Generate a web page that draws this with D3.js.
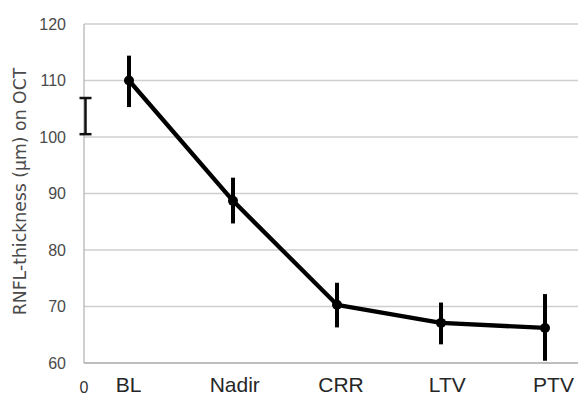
<!DOCTYPE html>
<html><head><meta charset="utf-8">
<script src="https://cdn.jsdelivr.net/npm/d3@7/dist/d3.min.js"></script>
<style>html,body{margin:0;padding:0;background:#fff;}svg{display:block;}</style>
</head><body>
<script>
const categories = ["BL", "Nadir", "CRR", "LTV", "PTV"];
const means = [110, 88.7, 70.3, 67.1, 66.2];
const lower = [105.3, 84.7, 66.3, 63.3, 60.4];
const upper = [114.4, 92.8, 74.2, 70.7, 72.2];
const zeroLabel = "0";
const zeroLower = 100.5;
const zeroUpper = 106.9;
const yTicks = [60, 70, 80, 90, 100, 110, 120];
const yTitle = "RNFL-thickness (µm) on OCT";

const W = 580, H = 398;
const m = {left: 84, top: 24, right: 2, bottom: 35};
const svg = d3.select("body").append("svg").attr("width", W).attr("height", H);
const g = svg.append("g").attr("transform", `translate(${m.left},${m.top})`);
const iw = W - m.left - m.right, ih = H - m.top - m.bottom;

const y = d3.scaleLinear().domain([60, 120]).range([ih, 0]);
const x = d3.scalePoint().domain(categories).range([45, 461]);
const xLab = d3.scalePoint().domain(categories).range([44, 469]);

// gridlines
g.selectAll(".grid").data(yTicks).join("line")
  .attr("x1", 0).attr("x2", iw)
  .attr("y1", d => y(d)).attr("y2", d => y(d))
  .attr("stroke", "#cfcfcf").attr("stroke-width", 1.3);

// axis lines
g.append("line").attr("x1", 0).attr("x2", 0).attr("y1", 0).attr("y2", ih)
  .attr("stroke", "#b5b5b5").attr("stroke-width", 1.3);
g.append("line").attr("x1", 0).attr("x2", iw).attr("y1", ih).attr("y2", ih)
  .attr("stroke", "#b5b5b5").attr("stroke-width", 1.3);

// y tick labels
const yAxis = d3.axisLeft(y).tickValues(yTicks).tickSize(0).tickPadding(18);
const ya = g.append("g").call(yAxis);
ya.select(".domain").remove();
ya.selectAll("text").attr("font-family", "Liberation Sans, Arial, sans-serif")
  .attr("font-size", 16).attr("fill", "#4a4a4a");

// x labels
const xAxis = d3.axisBottom(xLab).tickSize(0).tickPadding(14);
const xa = g.append("g").attr("transform", `translate(0,${ih})`).call(xAxis);
xa.select(".domain").remove();
xa.selectAll("text").attr("font-family", "Liberation Sans, Arial, sans-serif")
  .attr("font-size", 21).attr("fill", "#262626");
g.append("text").attr("x", 0).attr("y", ih + 30).attr("text-anchor", "middle")
  .attr("font-family", "Liberation Sans, Arial, sans-serif").attr("font-size", 16)
  .attr("fill", "#333").text(zeroLabel);

// y title
svg.append("text").attr("transform", `translate(26,${m.top + ih / 2 - 2}) rotate(-90)`)
  .attr("text-anchor", "middle").attr("font-family", "DejaVu Sans, Verdana, sans-serif")
  .attr("font-size", 17.3).attr("fill", "#4a4a4a").text(yTitle);

// zero error bar
const zx = 1.5;
g.append("line").attr("x1", zx).attr("x2", zx).attr("y1", y(zeroLower)).attr("y2", y(zeroUpper))
  .attr("stroke", "#111").attr("stroke-width", 2.5);
[zeroLower, zeroUpper].forEach(v => {
  g.append("line").attr("x1", zx - 6).attr("x2", zx + 6).attr("y1", y(v)).attr("y2", y(v))
    .attr("stroke", "#111").attr("stroke-width", 2.5);
});

const data = categories.map((c, i) => ({c, m: means[i], lo: lower[i], hi: upper[i]}));

// line
g.append("path").datum(data)
  .attr("d", d3.line().x(d => x(d.c)).y(d => y(d.m)))
  .attr("fill", "none").attr("stroke", "#000").attr("stroke-width", 4.3).attr("stroke-linejoin", "round");

// error bars
g.selectAll(".eb").data(data).join("line")
  .attr("x1", d => x(d.c)).attr("x2", d => x(d.c))
  .attr("y1", d => y(d.lo)).attr("y2", d => y(d.hi))
  .attr("stroke", "#000").attr("stroke-width", 4);

// markers
g.selectAll(".pt").data(data).join("circle")
  .attr("cx", d => x(d.c)).attr("cy", d => y(d.m)).attr("r", 5).attr("fill", "#000");
</script>
</body></html>
